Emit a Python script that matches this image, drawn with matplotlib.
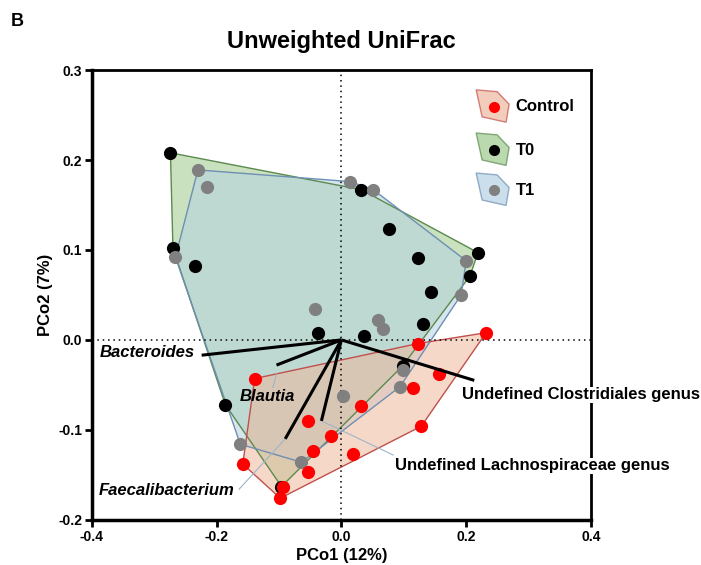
import matplotlib
matplotlib.use("Agg")
import matplotlib.pyplot as plt
from matplotlib.patches import Polygon
import numpy as np

plt.rcParams['font.family'] = ['Liberation Sans', 'DejaVu Sans']

# --- data ---
t0_x = [-0.274, -0.270, -0.235, 0.032, 0.077, 0.122, 0.144, 0.219, 0.206, 0.131, -0.038, 0.037, 0.098, -0.186, -0.096]
t0_y = [0.208, 0.102, 0.082, 0.167, 0.123, 0.091, 0.053, 0.097, 0.071, 0.018, 0.008, 0.004, -0.029, -0.072, -0.163]

t1_x = [-0.230, -0.216, -0.266, 0.014, 0.051, 0.200, 0.192, -0.042, 0.059, 0.067, 0.002, 0.094, 0.099, -0.162, -0.064]
t1_y = [0.189, 0.170, 0.092, 0.176, 0.167, 0.088, 0.050, 0.034, 0.022, 0.012, -0.062, -0.052, -0.033, -0.116, -0.136]

ctrl_x = [0.232, 0.123, 0.157, 0.115, -0.139, 0.032, -0.053, -0.016, 0.128, -0.046, 0.019, -0.054, -0.158, -0.094, -0.098]
ctrl_y = [0.008, -0.004, -0.038, -0.053, -0.043, -0.074, -0.090, -0.107, -0.096, -0.124, -0.127, -0.147, -0.138, -0.164, -0.176]

# biplot arrows (end points) and labels
taxa = ['Bacteroides', 'Blautia', 'Faecalibacterium', 'Undefined Lachnospiraceae genus', 'Undefined Clostridiales genus']
arrow_x = [-0.224, -0.104, -0.090, -0.032, 0.213]
arrow_y = [-0.017, -0.028, -0.110, -0.090, -0.045]


def hull(xs, ys):
    pts = sorted(set(zip(xs, ys)))

    def cross(o, a, b):
        return (a[0]-o[0])*(b[1]-o[1]) - (a[1]-o[1])*(b[0]-o[0])
    lower, upper = [], []
    for p in pts:
        while len(lower) >= 2 and cross(lower[-2], lower[-1], p) <= 0:
            lower.pop()
        lower.append(p)
    for p in reversed(pts):
        while len(upper) >= 2 and cross(upper[-2], upper[-1], p) <= 0:
            upper.pop()
        upper.append(p)
    return np.array(lower[:-1] + upper[:-1])


groups = [
    ('T0', t0_x, t0_y, '#9dc98c', '#5b8a4f', 'black'),
    ('T1', t1_x, t1_y, '#b6d1e3', '#6d8fb3', '#808080'),
    ('Control', ctrl_x, ctrl_y, '#efb89e', '#c0504d', 'red'),
]

fig = plt.figure(figsize=(7.01, 5.65), dpi=100)
ax = fig.add_axes([0.131, 0.080, 0.712, 0.796])

for name, xs, ys, fc, ec, mc in groups:
    h = hull(xs, ys)
    ax.add_patch(Polygon(h, closed=True, facecolor=fc, edgecolor='none', alpha=0.55, zorder=1))
    ax.add_patch(Polygon(h, closed=True, facecolor='none', edgecolor=ec, lw=1.0, zorder=2))

ax.axhline(0, color='black', lw=1.1, ls=(0, (1, 2.5)), zorder=3)
ax.axvline(0, color='black', lw=1.1, ls=(0, (1, 2.5)), zorder=3)

for name, xs, ys, fc, ec, mc in groups:
    ax.plot(xs, ys, 'o', color=mc, ms=9.5, mec='none', zorder=5)

for x, y in zip(arrow_x, arrow_y):
    ax.plot([0, x], [0, y], color='black', lw=2.2, zorder=6, solid_capstyle='butt')

# labels and leader lines
lbl = dict(fontsize=12, fontweight='bold', zorder=7)
wbox = dict(facecolor='white', edgecolor='none', pad=0.5)
ax.text(-0.235, -0.014, taxa[0], ha='right', va='center', style='italic', **lbl)
ax.text(-0.118, -0.063, taxa[1], ha='center', va='center', style='italic', **lbl)
ax.plot([-0.104, -0.110], [-0.038, -0.053], color='#a0b4c8', lw=0.8, zorder=4)
ax.text(-0.171, -0.167, taxa[2], ha='right', va='center', style='italic', **lbl)
ax.plot([-0.164, -0.090], [-0.166, -0.110], color='#a0b4c8', lw=0.8, zorder=4)
ax.text(0.086, -0.140, taxa[3], ha='left', va='center', bbox=wbox, **lbl)
ax.plot([0.083, -0.032], [-0.128, -0.090], color='#a0b4c8', lw=0.8, zorder=4)
ax.text(0.194, -0.061, taxa[4], ha='left', va='center', bbox=wbox, **lbl)

# legend drawn as little polygons
leg = [('Control', 0.918, '#efb89e', '#c0504d', 'red'),
       ('T0', 0.822, '#9dc98c', '#5b8a4f', 'black'),
       ('T1', 0.733, '#b6d1e3', '#6d8fb3', '#808080')]
shape = np.array([[-0.034, 0.038], [0.008, 0.034], [0.032, 0.006], [0.026, -0.034], [-0.022, -0.022]])
for name, yy, fc, ec, mc in leg:
    cx = 0.804
    ax.add_patch(Polygon(shape + [cx, yy], closed=True, transform=ax.transAxes,
                         facecolor=fc, edgecolor=ec, alpha=0.7, lw=1.0, zorder=8))
    ax.plot([cx + 0.002], [yy], 'o', color=mc, ms=8, mec='none', transform=ax.transAxes, zorder=9)
    ax.text(cx + 0.045, yy, name, transform=ax.transAxes, ha='left', va='center',
            fontsize=12, fontweight='bold', zorder=9)

ax.set_xlim(-0.4, 0.4)
ax.set_ylim(-0.2, 0.3)
ax.set_xticks([-0.4, -0.2, 0.0, 0.2, 0.4])
ax.set_yticks([-0.2, -0.1, 0.0, 0.1, 0.2, 0.3])
ax.set_xticklabels(['-0.4', '-0.2', '0.0', '0.2', '0.4'])
ax.set_yticklabels(['-0.2', '-0.1', '0.0', '0.1', '0.2', '0.3'])
ax.tick_params(direction='out', length=5, width=2, labelsize=10, pad=2)
for lab in ax.get_xticklabels() + ax.get_yticklabels():
    lab.set_fontweight('bold')
for s in ax.spines.values():
    s.set_linewidth(2)
ax.spines['left'].set_linewidth(2.5)
ax.spines['bottom'].set_linewidth(2.5)

ax.set_xlabel('PCo1 (12%)', fontsize=12, fontweight='bold', labelpad=3)
ax.set_ylabel('PCo2 (7%)', fontsize=12, fontweight='bold', labelpad=4)
ax.set_title('Unweighted UniFrac', fontsize=17, fontweight='bold', pad=16)
fig.text(0.015, 0.962, 'B', fontsize=13, fontweight='bold', va='center')

fig.savefig('out.png', dpi=100)
